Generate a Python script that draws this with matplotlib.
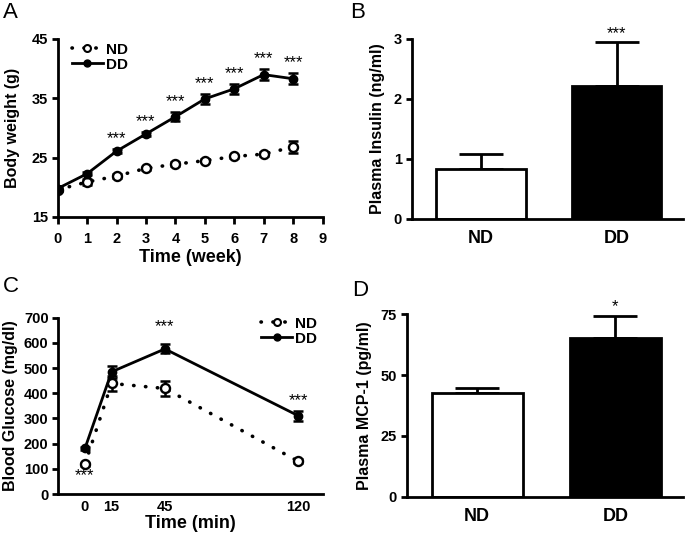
import matplotlib

matplotlib.use("Agg")
import matplotlib.pyplot as plt
import numpy as np
from matplotlib.lines import Line2D

plt.rcParams["font.family"] = ["Liberation Sans", "DejaVu Sans"]
plt.rcParams["font.weight"] = "bold"

# --- data -----------------------------------------------------------------------------
weeks = [0, 1, 2, 3, 4, 5, 6, 7, 8]
bw_nd = [19.6, 20.9, 21.9, 23.2, 23.9, 24.5, 25.2, 25.6, 26.8]
bw_nd_err = [0.3, 0.5, 0.3, 0.3, 0.3, 0.3, 0.3, 0.3, 1.0]
bw_dd = [19.8, 22.3, 26.1, 29.0, 31.9, 34.9, 36.6, 39.0, 38.3]
bw_dd_err = [0.4, 0.3, 0.3, 0.3, 0.8, 0.8, 0.8, 0.9, 0.9]
bw_star_weeks = [2, 3, 4, 5, 6, 7, 8]

groups = ["ND", "DD"]
insulin = [0.84, 2.21]
insulin_err = [0.24, 0.74]
insulin_stars = ["", "***"]

gtt_min = [0, 15, 45, 120]
glu_nd = [118, 439, 419, 130]
glu_nd_err = [6, 30, 30, 8]
glu_dd = [181, 485, 576, 311]
glu_dd_err = [6, 25, 18, 20]

mcp1 = [42.6, 65.1]
mcp1_err = [2.1, 9.4]
mcp1_stars = ["", "*"]

W, H = 685, 536
fig = plt.figure(figsize=(W / 100, H / 100), dpi=100)
DOTS = (0, (0.1, 3.2))


def ax_px(left, top, right, bottom):
    return fig.add_axes([left / W, 1 - bottom / H, (right - left) / W, (bottom - top) / H])


def style(ax):
    for s in ("top", "right"):
        ax.spines[s].set_visible(False)
    for s in ("left", "bottom"):
        ax.spines[s].set_linewidth(2)
    ax.tick_params(width=2, length=4, labelsize=10.5, direction="out", pad=3)
    for lab in ax.get_xticklabels() + ax.get_yticklabels():
        lab.set_fontweight("bold")


def line_pair(ax, x, nd, nd_err, dd, dd_err):
    ax.errorbar(x, nd, yerr=nd_err, fmt="none", ecolor="black", capsize=3.5, capthick=1.8,
                elinewidth=1.8, zorder=3)
    ax.plot(x, nd, ls=DOTS, color="black", lw=2.6, dash_capstyle="round", zorder=3)
    ax.plot(x, nd, "o", ls="none", mfc="white", mec="black", mew=1.7, ms=6.5, zorder=4)
    ax.errorbar(x, dd, yerr=dd_err, fmt="none", ecolor="black", capsize=3.5, capthick=1.8,
                elinewidth=1.8, zorder=5)
    ax.plot(x, dd, "o-", color="black", lw=2, ms=6, zorder=6)


def legend(ax, **kw):
    handles = [
        Line2D([], [], ls=DOTS, color="black", lw=2.6, dash_capstyle="round", marker="o",
               mfc="white", mec="black", mew=1.5, ms=5),
        Line2D([], [], ls="-", color="black", lw=2, marker="o", ms=5),
    ]
    ax.legend(handles, ["ND", "DD"], frameon=False, handlelength=2.0, handletextpad=0.2,
              labelspacing=0.05, prop={"weight": "bold", "size": 11}, **kw)


# A: body weight
ax = ax_px(57.7, 39, 322.5, 217)
line_pair(ax, weeks, bw_nd, bw_nd_err, bw_dd, bw_dd_err)
for w in bw_star_weeks:
    i = weeks.index(w)
    ax.text(w, bw_dd[i] + bw_dd_err[i] + 0.5, "***", ha="center", va="bottom", fontsize=12,
            fontweight="normal")
ax.set_xlim(0, 9)
ax.set_ylim(15, 45)
ax.set_xticks(range(10))
ax.set_yticks([15, 25, 35, 45])
ax.set_xlabel("Time (week)", fontsize=13, fontweight="bold", labelpad=2)
ax.set_ylabel("Body weight (g)", fontsize=11.5, fontweight="bold", labelpad=8)
legend(ax, loc="upper left", bbox_to_anchor=(0.02, 1.03), borderaxespad=0.2)
style(ax)
ax.tick_params(axis="x", length=5, pad=6)


def bar_panel(ax, vals, errs, stars, ymax, yticks, ylabel):
    x = np.arange(len(groups))
    ax.bar(x, vals, width=0.66, color=["white", "black"], edgecolor="black", linewidth=2,
           zorder=2)
    ax.errorbar(x, vals, yerr=[np.zeros(len(vals)), errs], fmt="none", ecolor="black",
                elinewidth=2, capsize=16, capthick=2, zorder=1)
    for xi, v, e, s in zip(x, vals, errs, stars):
        if s:
            ax.text(xi, v + e + ymax * 0.005, s, ha="center", va="bottom", fontsize=12,
                    fontweight="normal")
    ax.set_xlim(-0.51, 1.49)
    ax.set_ylim(0, ymax)
    ax.set_yticks(yticks)
    ax.set_xticks(x)
    ax.set_xticklabels(groups)
    ax.set_ylabel(ylabel, fontsize=11.5, fontweight="bold", labelpad=6)
    style(ax)
    ax.tick_params(axis="x", length=0, labelsize=13, pad=8)
    for lab in ax.get_xticklabels():
        lab.set_fontweight("bold")


# B: plasma insulin
ax = ax_px(411.7, 38.7, 683, 219)
bar_panel(ax, insulin, insulin_err, insulin_stars, 3, [0, 1, 2, 3], "Plasma Insulin (ng/ml)")

# C: glucose tolerance
ax = ax_px(58.3, 317.7, 323, 494)
line_pair(ax, gtt_min, glu_nd, glu_nd_err, glu_dd, glu_dd_err)
ax.text(0, glu_nd[0] - 15, "***", ha="center", va="top", fontsize=12, fontweight="normal")
ax.text(45, glu_dd[2] + glu_dd_err[2] + 40, "***", ha="center", va="bottom", fontsize=12,
        fontweight="normal")
ax.text(120, glu_dd[3] + glu_dd_err[3] + 10, "***", ha="center", va="bottom", fontsize=12,
        fontweight="normal")
ax.set_xlim(-15, 134)
ax.set_ylim(0, 700)
ax.set_xticks(gtt_min)
ax.set_yticks(range(0, 701, 100))
ax.set_xlabel("Time (min)", fontsize=13, fontweight="bold", labelpad=1)
ax.set_ylabel("Blood Glucose (mg/dl)", fontsize=11.5, fontweight="bold", labelpad=4)
legend(ax, loc="upper right", bbox_to_anchor=(1.0, 1.04), borderaxespad=0.0)
style(ax)
ax.tick_params(axis="x", length=0, pad=4)

# D: plasma MCP-1
ax = ax_px(406.7, 314.3, 683, 496.7)
bar_panel(ax, mcp1, mcp1_err, mcp1_stars, 75, [0, 25, 50, 75], "Plasma MCP-1 (pg/ml)")

# panel letters
for lab, (px, py) in {"A": (3, 2), "B": (350, 2), "C": (3, 276), "D": (352, 280)}.items():
    fig.text(px / W, 1 - py / H, lab, fontsize=16, fontweight="normal", ha="left", va="top")

fig.savefig("out.png", dpi=100)
